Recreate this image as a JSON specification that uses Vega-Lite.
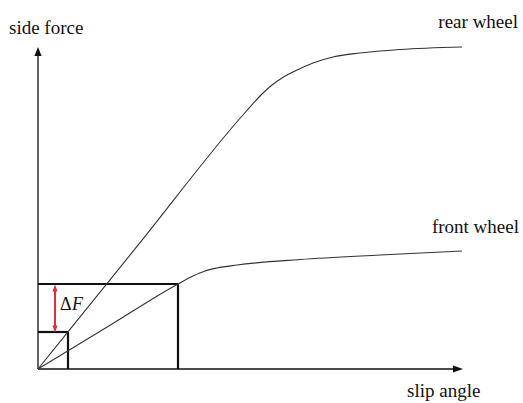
{
  "$schema": "https://vega.github.io/schema/vega-lite/v6.json",
  "width": 523,
  "height": 403,
  "padding": 0,
  "autosize": {"type": "none"},
  "background": "white",
  "config": {"view": {"stroke": null}},
  "resolve": {"scale": {"shape": "independent"}},
  "datasets": {
    "curves": [
      {"curve": "rear", "x": 0, "y": 0},
      {"curve": "rear", "x": 10, "y": 12.38},
      {"curve": "rear", "x": 20.8, "y": 25.75},
      {"curve": "rear", "x": 22.4, "y": 27.5},
      {"curve": "rear", "x": 23.4, "y": 28.4},
      {"curve": "rear", "x": 24.4, "y": 29.1},
      {"curve": "rear", "x": 25.5, "y": 29.7},
      {"curve": "rear", "x": 27.5, "y": 30.6},
      {"curve": "rear", "x": 29.5, "y": 31.2},
      {"curve": "rear", "x": 32.2, "y": 31.6},
      {"curve": "rear", "x": 36.2, "y": 31.95},
      {"curve": "rear", "x": 42.4, "y": 32.2},
      {"curve": "front", "x": 0, "y": 0},
      {"curve": "front", "x": 7, "y": 4.25},
      {"curve": "front", "x": 14.0, "y": 8.5},
      {"curve": "front", "x": 15.5, "y": 9.3},
      {"curve": "front", "x": 16.7, "y": 9.8},
      {"curve": "front", "x": 17.9, "y": 10.1},
      {"curve": "front", "x": 19.9, "y": 10.4},
      {"curve": "front", "x": 26.2, "y": 10.95},
      {"curve": "front", "x": 34.2, "y": 11.4},
      {"curve": "front", "x": 42.4, "y": 11.8}
    ],
    "axes": [
      {"x": 0, "y": 0, "x2": 0, "y2": 31.4},
      {"x": 0, "y": 0, "x2": 41.6, "y2": 0}
    ],
    "boxes": [
      {"x": 0, "y": 8.5, "x2": 14.0, "y2": 8.5},
      {"x": 14.0, "y": 0, "x2": 14.0, "y2": 8.5},
      {"x": 0, "y": 3.7, "x2": 3.0, "y2": 3.7},
      {"x": 3.0, "y": 0, "x2": 3.0, "y2": 3.7}
    ],
    "heads": [
      {"x": 0, "y": 31.8, "dir": "up"},
      {"x": 42.0, "y": 0, "dir": "right"}
    ],
    "delta": [
      {"x": 1.7, "y": 4.2, "x2": 1.7, "y2": 7.9}
    ],
    "deltaHeads": [
      {"x": 1.7, "y": 8.1, "dir": "up"},
      {"x": 1.7, "y": 4.0, "dir": "down"}
    ],
    "labels": [
      {"label": "side force", "x": -2.9, "y": 33.5, "align": "left"},
      {"label": "slip angle", "x": 36.9, "y": -2.8, "align": "left"},
      {"label": "rear wheel", "x": 48.0, "y": 34.1, "align": "right"},
      {"label": "front wheel", "x": 48.1, "y": 13.6, "align": "right"}
    ]
  },
  "layer": [
    {
      "data": {"name": "axes"},
      "mark": {"type": "rule", "color": "#111", "strokeWidth": 1.3},
      "encoding": {
        "x": {"field": "x", "type": "quantitative", "scale": {"domain": [-3.8, 48.5], "nice": false, "zero": false}, "axis": null},
        "y": {"field": "y", "type": "quantitative", "scale": {"domain": [-3.4, 36.9], "nice": false, "zero": false}, "axis": null},
        "x2": {"field": "x2"},
        "y2": {"field": "y2"}
      }
    },
    {
      "data": {"name": "heads"},
      "mark": {"type": "point", "filled": true, "color": "#111", "opacity": 1, "size": 100},
      "encoding": {
        "x": {"field": "x", "type": "quantitative"},
        "y": {"field": "y", "type": "quantitative"},
        "shape": {"field": "dir", "type": "nominal", "legend": null,
          "scale": {"domain": ["up", "right", "down"], "range": ["M-0.72,1 L0,-0.8 L0.72,1 Z", "M-1,-0.7 L1,0 L-1,0.7 Z", "M-0.72,-1 L0,1 L0.72,-1 Z"]}}
      }
    },
    {
      "data": {"name": "boxes"},
      "mark": {"type": "rule", "color": "#111", "strokeWidth": 2.2},
      "encoding": {
        "x": {"field": "x", "type": "quantitative"},
        "y": {"field": "y", "type": "quantitative"},
        "x2": {"field": "x2"},
        "y2": {"field": "y2"}
      }
    },
    {
      "data": {"name": "curves"},
      "mark": {"type": "line", "color": "#333", "strokeWidth": 1.1, "interpolate": "monotone"},
      "encoding": {
        "x": {"field": "x", "type": "quantitative"},
        "y": {"field": "y", "type": "quantitative"},
        "detail": {"field": "curve", "type": "nominal"},
        "order": {"field": "x", "type": "quantitative"}
      }
    },
    {
      "data": {"name": "delta"},
      "mark": {"type": "rule", "color": "#e0303a", "strokeWidth": 2},
      "encoding": {
        "x": {"field": "x", "type": "quantitative"},
        "y": {"field": "y", "type": "quantitative"},
        "x2": {"field": "x2"},
        "y2": {"field": "y2"}
      }
    },
    {
      "data": {"name": "deltaHeads"},
      "mark": {"type": "point", "filled": true, "color": "#e0303a", "opacity": 1, "size": 49},
      "encoding": {
        "x": {"field": "x", "type": "quantitative"},
        "y": {"field": "y", "type": "quantitative"},
        "shape": {"field": "dir", "type": "nominal", "legend": null,
          "scale": {"domain": ["up", "down"], "range": ["M-0.75,1 L0,-1 L0.75,1 Z", "M-0.75,-1 L0,1 L0.75,-1 Z"]}}
      }
    },
    {
      "data": {"values": [{"t": "Δ", "x": 2.2, "y": 5.9}]},
      "mark": {"type": "text", "font": "Liberation Serif", "fontSize": 18, "align": "left", "baseline": "alphabetic", "color": "#111"},
      "encoding": {
        "x": {"field": "x", "type": "quantitative"},
        "y": {"field": "y", "type": "quantitative"},
        "text": {"field": "t"}
      }
    },
    {
      "data": {"values": [{"t": "F", "x": 3.4, "y": 5.9}]},
      "mark": {"type": "text", "font": "Liberation Serif", "fontSize": 18, "fontStyle": "italic", "align": "left", "baseline": "alphabetic", "color": "#111"},
      "encoding": {
        "x": {"field": "x", "type": "quantitative"},
        "y": {"field": "y", "type": "quantitative"},
        "text": {"field": "t"}
      }
    },
    {
      "data": {"name": "labels"},
      "transform": [{"filter": "datum.align == 'left'"}],
      "mark": {"type": "text", "font": "Liberation Serif", "fontSize": 19, "align": "left", "baseline": "alphabetic", "color": "#111"},
      "encoding": {
        "x": {"field": "x", "type": "quantitative"},
        "y": {"field": "y", "type": "quantitative"},
        "text": {"field": "label"}
      }
    },
    {
      "data": {"name": "labels"},
      "transform": [{"filter": "datum.align == 'right'"}],
      "mark": {"type": "text", "font": "Liberation Serif", "fontSize": 19, "align": "right", "baseline": "alphabetic", "color": "#111"},
      "encoding": {
        "x": {"field": "x", "type": "quantitative"},
        "y": {"field": "y", "type": "quantitative"},
        "text": {"field": "label"}
      }
    }
  ]
}
